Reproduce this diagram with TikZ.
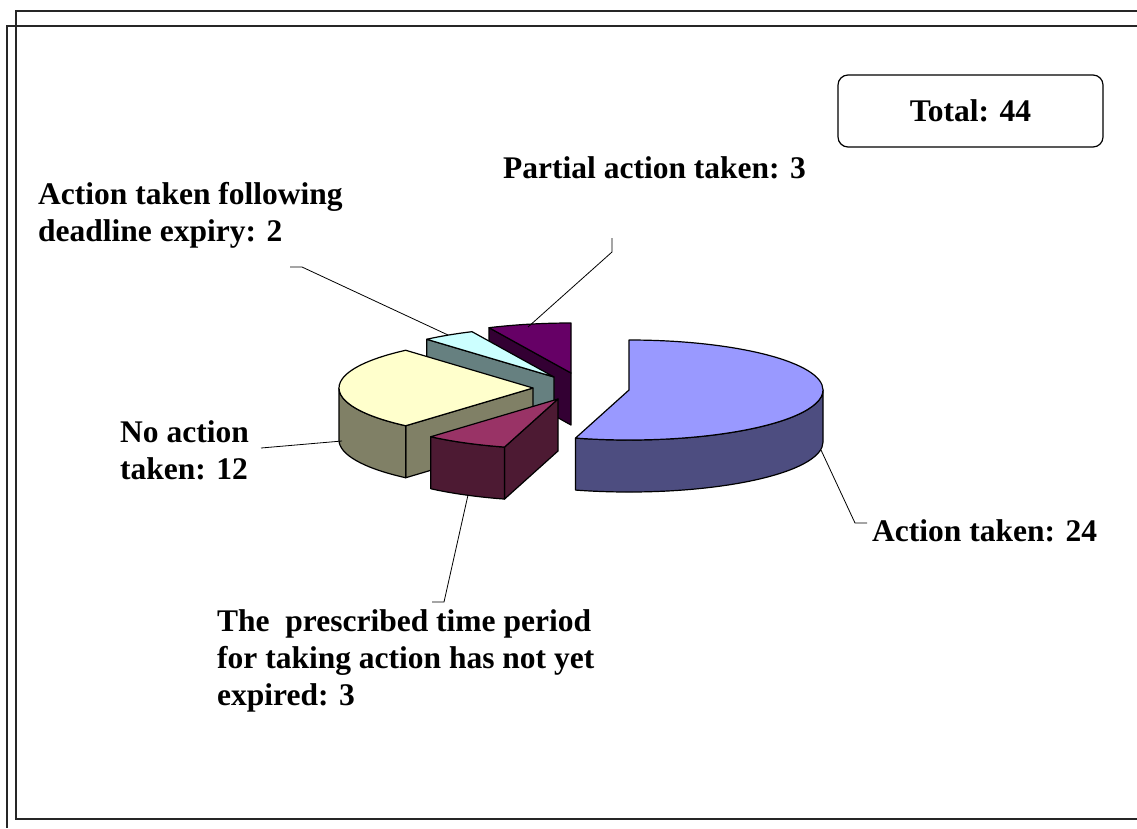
\documentclass[tikz,border=0pt]{standalone}
\usepackage{fontspec}
\setmainfont{Liberation Serif}
\usetikzlibrary{calc}
\definecolor{actT}{HTML}{9999FF}
\definecolor{actS}{HTML}{4D4D80}
\definecolor{preT}{HTML}{993366}
\definecolor{preS}{HTML}{4D1A33}
\definecolor{noT}{HTML}{FFFFCC}
\definecolor{noS}{HTML}{808066}
\definecolor{deadT}{HTML}{CCFFFF}
\definecolor{deadS}{HTML}{668080}
\definecolor{partT}{HTML}{660066}
\definecolor{partS}{HTML}{330033}
\newcommand\pieTop[4]{\filldraw[rim, fill=#4] (#1) -- ++(#2:194 and 50) arc[start angle=#2, end angle=#3, x radius=194, y radius=50] -- cycle;}
\newcommand\pieSide[4]{\filldraw[rim, fill=#4] (#1) ++(#2:194 and 50) arc[start angle=#2, end angle=#3, x radius=194, y radius=50] -- ++(0,52) arc[start angle=#3, end angle=#2, x radius=194, y radius=50] -- cycle;}
\newcommand\pieFace[3]{\filldraw[rim, fill=#3] (#1) -- ++(#2:194 and 50) -- ++(0,52) -- ($(#1)+(0,52)$) -- cycle;}
\begin{document}
\begin{tikzpicture}[x=1pt,y=-1pt,
  rim/.style={draw=black, line width=1.2pt, line join=round},
  lead/.style={draw=black, line width=0.8pt},
  lbl/.style={anchor=base west, inner sep=0pt, font=\fontsize{31.5}{37}\selectfont\bfseries},
  frame/.style={draw=black!85, line width=1.9pt}]
\useasboundingbox (0,0) rectangle (1137,828);
\fill[white] (0,0) rectangle (1137,828);
% frames
\draw[frame] (1137,11) -- (16,11) -- (16,819) -- (1137,819);
\draw[frame] (1137,26) -- (7,26) -- (7,828);
% slice apexes
\coordinate (cA) at (629,390);
\coordinate (cP) at (558,399);
\coordinate (cN) at (533,388);
\coordinate (cD) at (554,377);
\coordinate (cR) at (571,373);
% Partial action taken
\pieFace{cR}{245}{partS}
\pieTop{cR}{245}{270}{partT}
% Deadline expiry
\pieFace{cD}{229}{deadS}
\pieTop{cD}{229}{245}{deadT}
% No action
\pieFace{cN}{131}{noS}
\pieSide{cN}{131}{180}{noS}
\pieTop{cN}{131}{229}{noT}
% Action taken
\pieSide{cA}{0}{106}{actS}
\pieTop{cA}{-90}{106}{actT}
% Prescribed time
\pieFace{cP}{106}{preS}
\pieSide{cP}{106}{131}{preS}
\pieTop{cP}{106}{131}{preT}
% labels
\node[draw, rim, rounded corners=10pt, minimum width=265pt, minimum height=72pt, inner sep=0pt, font=\fontsize{31.5}{37}\selectfont\bfseries] (total) at (970.5,111) {Total: 44};
\node[lbl] (lpart) at (503,178) {Partial action taken: 3};
\node[lbl] (ldead) at (38,204) {\begin{tabular}[t]{@{}l@{}}Action taken following\\deadline expiry: 2\end{tabular}};
\node[lbl] (lno) at (120,442) {\begin{tabular}[t]{@{}l@{}}No action\\taken: 12\end{tabular}};
\node[lbl] (lact) at (872,541) {Action taken: 24};
\node[lbl] (lpre) at (217,631) {\begin{tabular}[t]{@{}l@{}}The~~prescribed time period\\for taking action has not yet\\expired: 3\end{tabular}};
% leader lines
\coordinate (pa1) at (612,238); \coordinate (pa2) at (612,252); \coordinate (pa3) at (528,327);
\coordinate (de1) at (290,267); \coordinate (de2) at (302,267); \coordinate (de3) at (448,335);
\coordinate (no1) at (261,448); \coordinate (no2) at (342,441);
\coordinate (pr1) at (468,495); \coordinate (pr2) at (444,602); \coordinate (pr3) at (432,602);
\coordinate (ac1) at (821,450); \coordinate (ac2) at (855,523); \coordinate (ac3) at (867,523);
\draw[lead] (pa1) -- (pa2) -- (pa3);
\draw[lead] (de1) -- (de2) -- (de3);
\draw[lead] (no1) -- (no2);
\draw[lead] (pr1) -- (pr2) -- (pr3);
\draw[lead] (ac1) -- (ac2) -- (ac3);
\end{tikzpicture}
\end{document}
